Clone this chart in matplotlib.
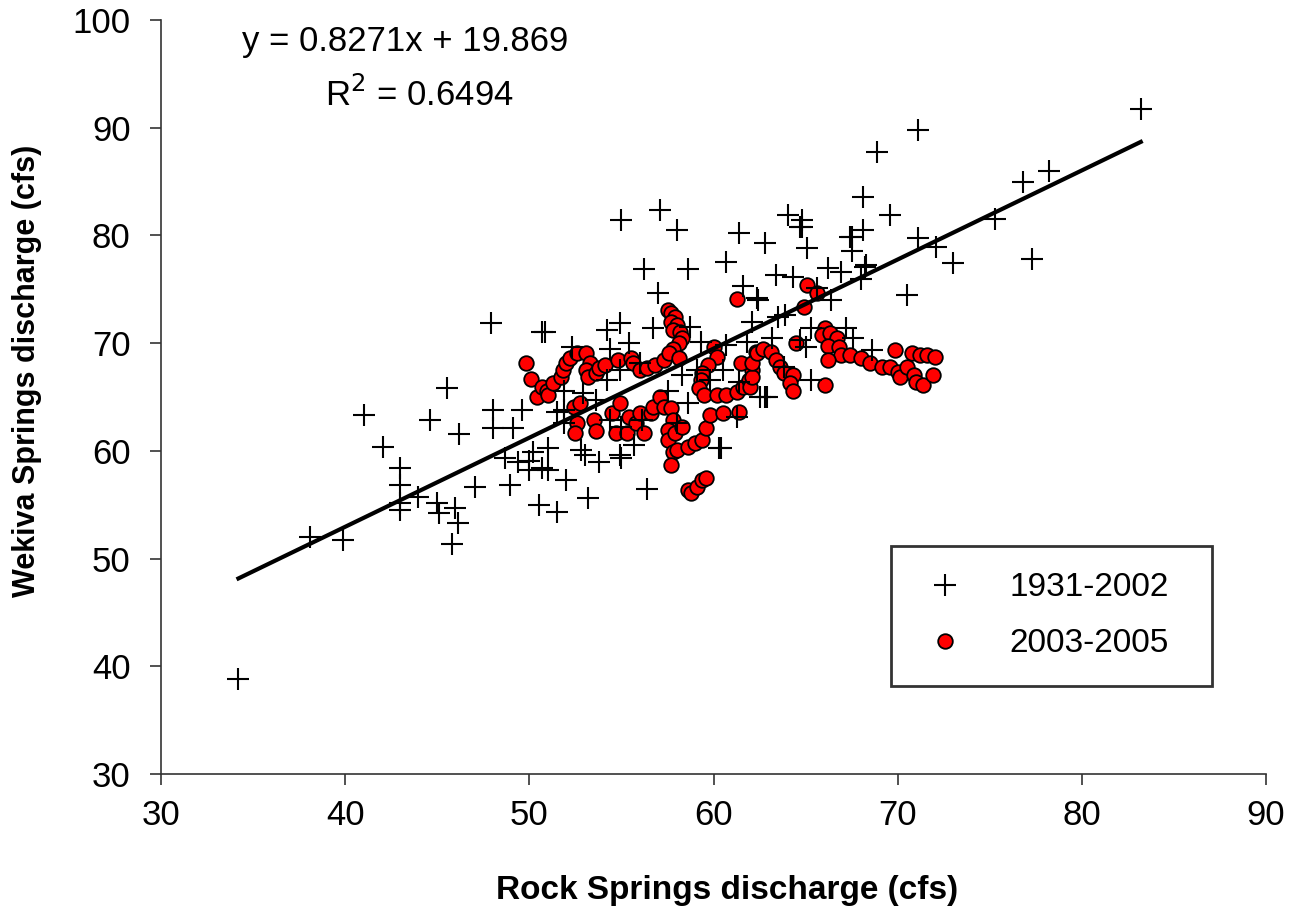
import numpy as np
import matplotlib.pyplot as plt

# =========================
# Data
# =========================
# 1931-2002 (crosses)
rock_old = [
    34.2, 38.1, 39.9, 41.0, 42.05, 43.0, 43.0, 43.0, 43.0, 43.95,
    44.6, 45.0, 45.1, 45.95, 45.5, 45.8, 46.1, 46.2, 47.05, 47.9,
    48.0, 48.0, 48.7, 48.95, 49.1, 49.4, 49.6, 50.0, 50.0, 50.2,
    50.5, 50.7, 50.7, 50.85, 51.0, 51.0, 51.5, 51.5, 51.9, 51.9,
    51.9, 52.0, 52.3, 52.8, 52.9, 53.0, 53.2, 53.6, 53.8, 54.2,
    54.2, 54.4, 54.4, 54.9, 54.9, 54.9, 55.0, 55.0, 55.0, 55.4,
    55.7, 56.0, 56.1, 56.2, 56.4, 56.7, 57.0, 57.1, 57.5, 58.0,
    58.0, 58.3, 58.6, 58.6, 58.7, 59.1, 59.3, 59.8, 60.3, 60.4,
    60.5, 60.7, 60.7, 61.3, 61.4, 61.4, 61.6, 61.8, 62.1, 62.35,
    62.4, 62.5, 62.8, 62.8, 62.9, 63.2, 63.4, 63.5, 63.8, 63.9,
    64.05, 64.3, 64.7, 64.7, 64.8, 64.8, 65.0, 65.1, 65.3, 65.3,
    65.6, 66.2, 66.4, 66.9, 67.2, 67.4, 67.5, 67.5, 67.6, 68.0,
    68.1, 68.1, 68.2, 68.3, 68.6, 68.9, 69.6, 70.5, 71.1, 71.1,
    72.1, 73.0, 75.3, 76.8, 77.3, 78.2, 83.2,
]
wekiva_old = [
    38.8, 52.0, 51.7, 63.3, 60.4, 58.4, 56.8, 55.2, 54.5, 55.7,
    62.9, 55.2, 54.2, 54.7, 65.8, 51.4, 53.3, 61.6, 56.6, 71.9,
    63.8, 62.1, 59.3, 56.8, 62.1, 59.0, 63.8, 59.1, 58.2, 59.9,
    55.0, 58.4, 71.0, 71.0, 60.3, 58.2, 63.6, 54.3, 65.6, 63.8,
    62.6, 57.3, 69.6, 60.1, 65.4, 59.6, 55.6, 64.7, 59.0, 71.2,
    66.6, 69.5, 62.9, 71.9, 67.5, 59.6, 62.2, 59.3, 81.4, 70.0,
    60.5, 68.2, 62.9, 76.9, 56.5, 71.4, 74.7, 82.4, 65.6, 80.5,
    62.6, 67.0, 64.4, 76.9, 71.5, 67.5, 70.1, 66.6, 60.3, 60.3,
    67.5, 69.8, 77.5, 63.1, 66.4, 80.2, 75.3, 70.1, 72.0, 74.2,
    74.0, 65.0, 79.3, 65.0, 65.0, 70.5, 76.3, 72.4, 67.8, 72.6,
    81.9, 76.1, 70.3, 80.8, 81.4, 80.8, 69.6, 78.8, 71.4, 66.6,
    75.1, 77.0, 74.0, 76.6, 71.4, 79.9, 79.9, 78.6, 70.5, 76.0,
    83.6, 80.5, 77.1, 77.3, 69.4, 87.7, 81.9, 74.5, 89.8, 79.8,
    78.9, 77.4, 81.5, 85.0, 77.8, 86.0, 91.7,
]

# 2003-2005 (red circles)
rock_new = [
    49.8, 50.1, 50.4, 50.7, 50.96, 51.0, 51.3, 51.7, 51.8, 52.0,
    52.2, 52.6, 53.1, 53.3, 53.1, 53.2, 53.6, 53.8, 54.1, 54.8,
    55.5, 55.6, 56.0, 56.4, 56.8, 57.3, 57.5, 57.7, 57.9, 57.7,
    58.0, 57.8, 58.2, 58.3, 58.1, 57.8, 57.6, 58.1, 52.4, 52.75,
    52.6, 52.5, 53.5, 53.6, 54.5, 54.7, 54.9, 55.4, 55.3, 55.8,
    56.0, 56.2, 56.6, 56.7, 57.1, 57.3, 57.7, 57.8, 57.5, 57.5,
    57.9, 58.3, 57.8, 57.7, 58.0, 58.6, 59.0, 59.4, 59.6, 59.8,
    58.6, 58.8, 59.1, 59.4, 59.6, 60.0, 60.2, 59.7, 59.4, 59.3,
    59.2, 59.5, 60.2, 60.7, 61.3, 61.6, 61.9, 62.1, 61.5, 62.3,
    61.4, 60.5, 61.3, 62.0, 62.1, 62.1, 62.35, 62.7, 63.1, 63.4,
    63.6, 63.8, 64.3, 64.15, 64.3, 64.5, 64.9, 65.1, 65.6, 66.05,
    65.9, 66.3, 66.7, 66.2, 66.8, 66.9, 66.2, 67.4, 68.0, 68.5,
    69.15, 69.6, 69.85, 70.0, 70.1, 70.5, 70.8, 70.9, 71.2, 71.0,
    71.4, 71.6, 72.0, 71.9, 66.05,
]
wekiva_new = [
    68.2, 66.7, 65.0, 65.9, 65.6, 65.2, 66.3, 66.9, 67.5, 68.2,
    68.6, 69.1, 69.1, 68.2, 67.5, 66.9, 67.2, 67.7, 68.0, 68.4,
    68.6, 68.2, 67.5, 67.7, 68.0, 68.4, 73.1, 72.8, 72.4, 72.0,
    71.7, 71.2, 71.0, 70.5, 70.0, 69.5, 69.1, 68.6, 64.1, 64.4,
    62.6, 61.7, 62.9, 61.8, 63.5, 61.7, 64.4, 63.1, 61.7, 62.6,
    63.5, 61.7, 63.5, 64.1, 65.0, 64.1, 64.0, 62.9, 61.9, 61.0,
    61.7, 62.2, 59.9, 58.7, 60.1, 60.4, 60.7, 61.0, 62.1, 63.3,
    56.4, 56.1, 56.6, 57.3, 57.5, 69.6, 68.7, 68.0, 67.2, 66.6,
    65.8, 65.2, 65.2, 65.2, 65.5, 65.9, 66.6, 67.5, 68.2, 69.2,
    63.6, 63.5, 74.1, 65.9, 66.9, 68.2, 69.1, 69.5, 69.2, 68.4,
    67.8, 67.2, 67.0, 66.3, 65.6, 70.0, 73.4, 75.4, 74.7, 71.4,
    70.8, 70.9, 70.5, 69.7, 69.6, 68.9, 68.4, 68.9, 68.6, 68.2,
    67.8, 67.8, 69.4, 67.3, 66.9, 67.8, 69.1, 67.0, 68.9, 66.4,
    66.1, 68.9, 68.7, 67.0, 66.1,
]

slope = 0.8271
intercept = 19.869
fit_x = [min(rock_old), max(rock_old)]

# =========================
# Plot
# =========================
plt.rcParams['font.family'] = ['Liberation Sans', 'DejaVu Sans']

fig = plt.figure(figsize=(12.99, 9.09), dpi=100)
ax = fig.add_axes([0.124, 0.1485, 0.8506, 0.8295])

ax.plot(rock_new, wekiva_new, 'o', color='red', markeredgecolor='black',
        markeredgewidth=1.3, markersize=10.5, label='2003-2005', zorder=2)
ax.plot(rock_old, wekiva_old, '+', color='black', markersize=16,
        markeredgewidth=1.5, label='1931-2002', zorder=3)

fx = np.array(fit_x)
ax.plot(fx, slope * fx + intercept, color='black', linewidth=3, zorder=4)

ax.set_xlim(30, 90)
ax.set_ylim(30, 100)
ax.set_xticks(range(30, 91, 10))
ax.set_yticks(range(30, 101, 10))
ax.spines['top'].set_visible(False)
ax.spines['right'].set_visible(False)
for s in ('left', 'bottom'):
    ax.spines[s].set_color('#333333')
    ax.spines[s].set_linewidth(1.2)
ax.tick_params(direction='out', length=8, width=1.2, color='#333333',
               labelsize=25)
ax.tick_params(axis='y', pad=14)
ax.tick_params(axis='x', pad=10)

ax.set_xlabel('Rock Springs discharge (cfs)', fontsize=24, fontweight='bold')
ax.set_ylabel('Wekiva Springs discharge (cfs)', fontsize=22, fontweight='bold')
ax.xaxis.set_label_coords(0.512, -0.134)
ax.yaxis.set_label_coords(-0.108, 0.534)

ax.text(0.073, 0.971, 'y = 0.8271x + 19.869', transform=ax.transAxes,
        fontsize=25, ha='left', va='center')
ax.text(0.148, 0.90, 'R$^2$ = 0.6494', transform=ax.transAxes,
        fontsize=25, ha='left', va='center')

handles, labels = ax.get_legend_handles_labels()
leg = ax.legend(handles[::-1], labels[::-1], loc='lower left',
                bbox_to_anchor=(0.661, 0.1167, 0.29, 0.19), mode='expand',
                fontsize=24, frameon=True, fancybox=False,
                borderpad=0.8, labelspacing=0.75, handlelength=1.6,
                handletextpad=1.15, borderaxespad=0)
leg.get_frame().set_edgecolor('black')
leg.get_frame().set_linewidth(2)

plt.savefig('out.png', dpi=100)
